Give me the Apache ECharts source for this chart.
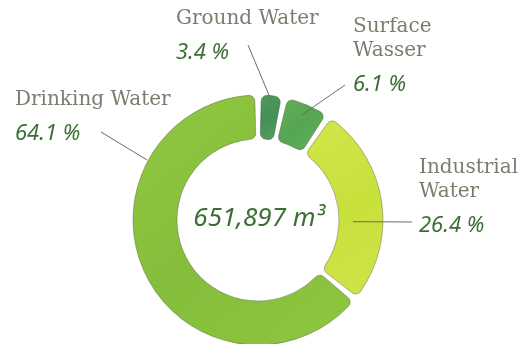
<!DOCTYPE html>
<html>
<head>
<meta charset="utf-8">
<script src="https://cdn.jsdelivr.net/npm/echarts@6/dist/echarts.min.js"></script>
<style>
  html, body { margin: 0; padding: 0; background: #ffffff; }
  #chart { width: 527px; height: 344px; }
</style>
</head>
<body>
<div id="chart"></div>
<script>
// Water consumption split (percent of total volume)
const categories = ['Ground Water', 'Surface\nWasser', 'Industrial\nWater', 'Drinking Water'];
const shares = [3.4, 6.1, 26.4, 64.1];
const totalVolume = '651,897';
const totalUnit = 'm³';

// Ring geometry (pixels)
const CX = 258, CY = 220, R_IN = 81, R_OUT = 125;

// Fill per slice
function grad(a, b, c) {
  return new echarts.graphic.LinearGradient(0, 0, 1, 1, [
    { offset: 0, color: a }, { offset: 0.5, color: b }, { offset: 1, color: c }
  ]);
}
const sliceFills = [
  grad('#4f9a5d', '#438f55', '#56a062'),
  grad('#64b05a', '#55a552', '#66b25c'),
  grad('#d2e64a', '#c8e03c', '#cfe447'),
  grad('#93c842', '#84be3a', '#8fc640')
];

// Where each label block sits and where its leader line meets the ring
const labelSpots = [
  { x: 176, y: 7,   lineEnd: [248, 45],  anchorDeg: 5.6,   anchorR: 123 },
  { x: 353, y: 15,  lineEnd: [345, 85],  anchorDeg: 22.7,  anchorR: 114 },
  { x: 419, y: 156, lineEnd: [412, 222], anchorDeg: 91,    anchorR: 95 },
  { x: 15,  y: 88,  lineEnd: [101, 132], anchorDeg: 298.4, anchorR: 126 }
];

function ringPoint(deg, r) {
  const a = deg * Math.PI / 180;
  return [CX + r * Math.sin(a), CY - r * Math.cos(a)];
}

const chart = echarts.init(document.getElementById('chart'), null, { renderer: 'canvas' });

const handFont = '"Noto Sans", "DejaVu Sans", sans-serif';
const labelFont = '"DejaVu Serif", "Liberation Serif", serif';

// Leader lines, drawn over the ring
const leaderLines = labelSpots.map(s => ({
  type: 'polyline',
  z: 100,
  silent: true,
  shape: { points: [ringPoint(s.anchorDeg, s.anchorR), s.lineEnd] },
  style: { stroke: '#6d6d5e', lineWidth: 1, fill: null }
}));

chart.setOption({
  backgroundColor: '#ffffff',
  animation: false,
  series: [{
    type: 'pie',
    center: [CX, CY],
    radius: [R_IN, R_OUT],
    startAngle: 90,
    clockwise: true,
    padAngle: 3,
    avoidLabelOverlap: false,
    itemStyle: {
      borderRadius: 6,
      borderColor: 'rgba(70,72,55,0.55)',
      borderWidth: 0.7
    },
    label: {
      show: true,
      position: 'outside',
      align: 'left',
      formatter: p => '{n|' + p.name.split('\n').join('}\n{n|') + '}\n{v|' + p.value.toFixed(1) + ' %}',
      rich: {
        n: { fontFamily: labelFont, fontSize: 20, lineHeight: 24, color: '#7c7c6e', align: 'left' },
        v: { fontFamily: handFont, fontStyle: 'italic', fontSize: 22, lineHeight: 44, color: '#3c6f36', align: 'left' }
      }
    },
    labelLine: { show: false },
    labelLayout: function (params) {
      const s = labelSpots[params.dataIndex];
      return { x: s.x, y: s.y, align: 'left', verticalAlign: 'top' };
    },
    emphasis: { disabled: true },
    data: categories.map((name, i) => ({
      name: name,
      value: shares[i],
      itemStyle: { color: sliceFills[i] }
    }))
  }],
  graphic: leaderLines.concat([{
    type: 'text',
    x: CX + 1,
    y: CY - 1,
    style: {
      text: totalVolume + ' ' + totalUnit,
      fontFamily: handFont,
      fontStyle: 'italic',
      fontSize: 26,
      fill: '#3c6f36',
      align: 'center',
      verticalAlign: 'middle'
    }
  }])
});
</script>
</body>
</html>
